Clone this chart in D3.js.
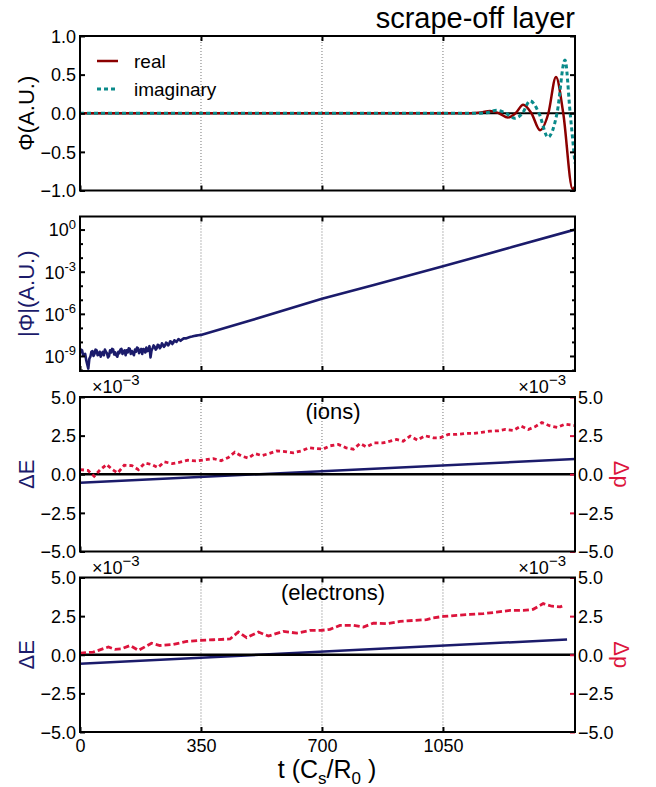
<!DOCTYPE html>
<html>
<head>
<meta charset="utf-8">
<script src="https://cdnjs.cloudflare.com/ajax/libs/d3/7.8.5/d3.min.js"></script>
<style>
  body { margin: 0; background: #fff; }
  svg { font-family: "Liberation Sans", Arial, sans-serif; }
</style>
</head>
<body>
<script>
// time axis (C_s/R_0)
var tMax = 1432;
var tTicks = [0, 350, 700, 1050];
var gridTicks = [350, 700, 1050];

// panel 1: Phi, real and imaginary parts
var realTime = [0, 1000, 1130, 1160, 1186, 1212, 1238, 1260, 1282, 1306, 1331, 1355, 1377, 1398, 1425, 1432];
var realPhi = [0, 0, 0, 0.01, 0.03, 0, -0.055, 0, 0.11, 0, -0.22, 0, 0.47, 0, -0.98, -0.95];
var imagTime = [0, 1000, 1150, 1180, 1206, 1232, 1258, 1280, 1302, 1328, 1354, 1380, 1403, 1418, 1432];
var imagPhi = [0, 0, 0, 0.01, 0.04, 0, -0.065, 0, 0.16, 0, -0.31, 0, 0.69, 0, -0.65];

// panel 2: |Phi|, given as log10 of the value (read in decades off the log axis)
var absTime = [0, 3, 6, 9, 12, 15, 18, 21, 24, 27, 30, 33, 36, 39, 42, 45, 48, 51, 54, 57,
  60, 63, 66, 69, 72, 75, 78, 81, 84, 87, 90, 93, 96, 99, 102, 105, 108, 111, 114, 117,
  120, 123, 126, 129, 132, 135, 138, 141, 144, 147, 150, 153, 156, 159, 162, 165, 168, 171, 174, 177,
  180, 183, 186, 189, 192, 195, 198, 201, 204, 207, 210, 213, 216, 219, 222, 225, 228, 231, 234, 237,
  240, 243, 246, 249, 252, 255, 258, 261, 264, 267, 270, 273, 276, 279, 282, 285, 288, 291, 294,
  300, 306, 312, 318, 324, 330, 336, 342, 350, 500, 700, 850, 1050, 1250, 1432];
var absPhiLog10 = [-8.8, -8.55, -8.6, -8.95, -8.9, -8.85, -9.3, -9.6, -9.9, -9.2,
  -9.05, -8.7, -8.65, -9.0, -8.85, -8.55, -8.6, -8.95, -8.9, -8.7,
  -9.05, -8.8, -8.7, -8.95, -8.55, -8.7, -8.8, -9.1, -9.0, -8.6,
  -8.75, -8.5, -8.55, -8.9, -8.75, -8.95, -9.05, -8.7, -8.8, -8.55,
  -8.5, -8.85, -8.7, -8.6, -8.95, -8.6, -8.75, -8.45, -8.5, -8.85,
  -8.65, -8.8, -8.95, -8.55, -8.7, -8.4, -8.45, -8.8, -8.6, -8.5,
  -8.85, -8.5, -8.55, -8.75, -8.4, -8.65, -8.6, -8.3, -9.1, -8.6,
  -8.45, -8.25, -8.35, -8.55, -8.45, -8.2, -8.25, -8.45, -8.35, -8.1,
  -8.2, -8.35, -8.25, -8.05, -8.1, -8.25, -8.15, -7.95, -8.0, -8.15,
  -8.05, -7.88, -7.95, -8.0, -7.9, -7.8, -7.85, -7.92, -7.85,
  -7.75, -7.75, -7.7, -7.65, -7.62, -7.58, -7.55, -7.52, -7.5, -6.42, -4.93, -3.94, -2.62, -1.25, 0];
var logTicks = [0, -3, -6, -9];

// panel 3: ions, energy and momentum errors (x 1e-3)
var ionETime = [0, 1432];
var ionE = [-0.55, 0.98];
var ionPTime = [0, 23, 41, 58, 77, 94, 109, 128, 150, 169, 188, 207, 225, 244, 267, 289, 312, 335, 360, 386,
  408, 429, 448, 468, 487, 506, 526, 547, 569, 593, 617, 641, 662, 685, 704, 723, 747, 770, 791, 810,
  829, 851, 876, 897, 916, 935, 955, 976, 998, 1022, 1041, 1066, 1090, 1114, 1138, 1162, 1186, 1210, 1230, 1254,
  1276, 1297, 1316, 1336, 1358, 1381, 1403, 1422, 1432];
var ionP = [0.3, 0.25, -0.13, 0.28, 0.63, 0.3, 0.08, 0.58, 0.56, 0.3, 0.73, 0.63, 0.43, 0.8, 0.69, 0.78, 0.91, 0.86, 0.93, 1.01,
  0.88, 1.08, 1.43, 1.17, 1.04, 1.34, 1.21, 1.34, 1.51, 1.47, 1.39, 1.51, 1.71, 1.66, 1.64, 1.84, 1.93, 1.71, 1.62, 1.99,
  1.77, 2.03, 2.03, 2.14, 2.25, 2.14, 2.47, 2.21, 2.49, 2.36, 2.36, 2.58, 2.58, 2.64, 2.64, 2.71, 2.79, 2.81, 2.9, 2.84,
  3.12, 2.9, 3.07, 3.35, 3.14, 3.03, 3.24, 3.18, 3.15];

// panel 4: electrons
var eleETime = [0, 1409];
var eleE = [-0.58, 0.99];
var elePTime = [0, 38, 82, 101, 121, 145, 169, 207, 231, 270, 309, 347, 386, 434, 458, 482, 516, 545, 588, 627,
  665, 699, 723, 752, 791, 820, 849, 887, 926, 964, 1003, 1022, 1051, 1090, 1128, 1167, 1205, 1244, 1282, 1311,
  1340, 1365, 1389, 1395];
var eleP = [0.1, 0.17, 0.5, 0.35, 0.39, 0.6, 0.28, 0.75, 0.6, 0.67, 0.86, 0.93, 0.97, 1.02, 1.47, 1.1, 1.47, 1.21, 1.51, 1.4,
  1.58, 1.58, 1.64, 1.9, 1.9, 1.79, 2.05, 2.01, 2.16, 2.22, 2.27, 2.39, 2.48, 2.55, 2.61, 2.66, 2.76, 2.87, 2.87, 2.94,
  3.31, 3.14, 3.1, 3.15];

var phiTicks = [-1, -0.5, 0, 0.5, 1];
var errTicks = [-5, -2.5, 0, 2.5, 5];

// colours
var navy = "#1b1b6b";
var crimson = "#dc143c";
var darkred = "#8b0000";
var teal = "#0a8a8a";

// layout
var svgWidth = 656;
var svgHeight = 787;
var plotLeft = 80;
var plotRight = 575;
var panelTop = [36, 216.5, 397, 577.5];
var panelH = 154.5;

var svg = d3.select("body")
  .append("svg")
  .attr("width", svgWidth)
  .attr("height", svgHeight);

var x = d3.scaleLinear().domain([0, tMax]).range([plotLeft, plotRight]);

function zip(a, b) {
  return a.map((d, i) => [d, b[i]]);
}

function fmt(d) {
  return d3.format(".1f")(d).replace("-", "\u2212");
}

// clip + dotted grid lines, returns group for the data
function makePanel(i) {
  var top = panelTop[i];
  var g = svg.append("g");
  g.append("clipPath").attr("id", "clip" + i)
    .append("rect")
    .attr("x", plotLeft).attr("y", top)
    .attr("width", plotRight - plotLeft).attr("height", panelH);
  g.selectAll(".grid")
    .data(gridTicks)
    .enter()
    .append("line")
    .attr("x1", d => x(d)).attr("x2", d => x(d))
    .attr("y1", top).attr("y2", top + panelH)
    .attr("stroke", "#777")
    .attr("stroke-width", 1)
    .attr("stroke-dasharray", "1,2");
  var plot = g.append("g").attr("clip-path", `url(#clip${i})`);
  return { g: g, plot: plot, top: top, bottom: top + panelH };
}

function styleAxis(ax, color) {
  ax.select(".domain").remove();
  ax.selectAll("line").attr("stroke", color || "#000").attr("stroke-width", 2);
  ax.selectAll("text")
    .attr("fill", "#000")
    .attr("font-size", 18)
    .attr("font-family", "Liberation Sans, Arial, sans-serif");
}

// frame with top/bottom ticks
function drawFrame(p, showX) {
  var top = svg.append("g").attr("transform", `translate(0,${p.top})`)
    .call(d3.axisTop(x).tickValues(gridTicks).tickSize(-5).tickFormat(""));
  styleAxis(top);
  var bot = svg.append("g").attr("transform", `translate(0,${p.bottom})`)
    .call(d3.axisBottom(x).tickValues(tTicks).tickSize(-5).tickPadding(7)
      .tickFormat(showX ? d3.format("d") : ""));
  styleAxis(bot);
  svg.append("rect")
    .attr("x", plotLeft).attr("y", p.top)
    .attr("width", plotRight - plotLeft).attr("height", panelH)
    .attr("fill", "none").attr("stroke", "#000").attr("stroke-width", 2);
}

function yLabel(text, cy, color) {
  svg.append("text")
    .attr("transform", `translate(34,${cy}) rotate(-90)`)
    .attr("text-anchor", "middle")
    .attr("font-size", 22)
    .attr("fill", color)
    .text(text);
}

// ---------- panel 1 ----------
var p1 = makePanel(0);
var y1 = d3.scaleLinear().domain([-1, 1]).range([p1.bottom, p1.top]);

p1.plot.append("line")
  .attr("x1", plotLeft).attr("x2", plotRight)
  .attr("y1", y1(0)).attr("y2", y1(0))
  .attr("stroke", "#000").attr("stroke-width", 2);

var line1 = d3.line().x(d => x(d[0])).y(d => y1(d[1])).curve(d3.curveMonotoneX);

p1.plot.append("path")
  .datum(zip(realTime, realPhi))
  .attr("d", line1)
  .attr("fill", "none").attr("stroke", darkred).attr("stroke-width", 2.5);

p1.plot.append("path")
  .datum(zip(imagTime, imagPhi))
  .attr("d", line1)
  .attr("fill", "none").attr("stroke", teal).attr("stroke-width", 3)
  .attr("stroke-dasharray", "4,3");

var l1 = svg.append("g").attr("transform", `translate(${plotLeft},0)`)
  .call(d3.axisLeft(y1).tickValues(phiTicks).tickSize(-5).tickPadding(4).tickFormat(fmt));
styleAxis(l1);
l1.selectAll("text").attr("dy", "0.35em");
var r1 = svg.append("g").attr("transform", `translate(${plotRight},0)`)
  .call(d3.axisRight(y1).tickValues(phiTicks).tickSize(-5).tickFormat(""));
styleAxis(r1);
drawFrame(p1, false);
yLabel("\u03a6(A.U.)", (p1.top + p1.bottom) / 2, "#000");

// legend
var legend = svg.append("g");
legend.append("line")
  .attr("x1", 97).attr("x2", 118).attr("y1", 61).attr("y2", 61)
  .attr("stroke", darkred).attr("stroke-width", 2.5);
legend.append("text").attr("x", 134).attr("y", 68).attr("font-size", 19).text("real");
legend.append("line")
  .attr("x1", 97).attr("x2", 118).attr("y1", 89).attr("y2", 89)
  .attr("stroke", teal).attr("stroke-width", 3).attr("stroke-dasharray", "4,3");
legend.append("text").attr("x", 134).attr("y", 96).attr("font-size", 19).text("imaginary");

// title
svg.append("text")
  .attr("x", plotRight).attr("y", 28)
  .attr("text-anchor", "end")
  .attr("font-size", 29)
  .text("scrape-off layer");

// ---------- panel 2 ----------
var p2 = makePanel(1);
var y2 = d3.scaleLog().domain([Math.pow(10, -10.07), Math.pow(10, 0.93)]).range([p2.bottom, p2.top]);

p2.plot.append("path")
  .datum(zip(absTime, absPhiLog10))
  .attr("d", d3.line().x(d => x(d[0])).y(d => y2(Math.pow(10, d[1]))))
  .attr("fill", "none").attr("stroke", navy).attr("stroke-width", 2.6)
  .attr("stroke-linejoin", "round");

var majors = logTicks.map(e => Math.pow(10, e));
var minors = d3.range(-10, 1).filter(e => logTicks.indexOf(e) < 0).map(e => Math.pow(10, e));

var l2 = svg.append("g").attr("transform", `translate(${plotLeft},0)`)
  .call(d3.axisLeft(y2).tickValues(majors).tickSize(-5).tickPadding(4).tickFormat(""));
styleAxis(l2);
l2.selectAll(".tick text").each(function(d) {
  var t = d3.select(this).attr("dy", "0.35em");
  t.append("tspan").text("10");
  t.append("tspan").attr("dy", "-0.6em").attr("font-size", 13).text(Math.round(Math.log10(d)));
});
var l2m = svg.append("g").attr("transform", `translate(${plotLeft},0)`)
  .call(d3.axisLeft(y2).tickValues(minors).tickSize(-3).tickFormat(""));
styleAxis(l2m);
var r2 = svg.append("g").attr("transform", `translate(${plotRight},0)`)
  .call(d3.axisRight(y2).tickValues(majors).tickSize(-5).tickFormat(""));
styleAxis(r2);
var r2m = svg.append("g").attr("transform", `translate(${plotRight},0)`)
  .call(d3.axisRight(y2).tickValues(minors).tickSize(-3).tickFormat(""));
styleAxis(r2m);
drawFrame(p2, false);
yLabel("|\u03a6|(A.U.)", (p2.top + p2.bottom) / 2, navy);

// ---------- panels 3 and 4 ----------
function errorPanel(i, eTime, eVal, pTime, pVal, label, dash) {
  var p = makePanel(i);
  var y = d3.scaleLinear().domain([-5, 5]).range([p.bottom, p.top]);
  var line = d3.line().x(d => x(d[0])).y(d => y(d[1]));

  p.plot.append("path")
    .datum(zip(eTime, eVal))
    .attr("d", line)
    .attr("fill", "none").attr("stroke", navy).attr("stroke-width", 2.5);

  p.plot.append("line")
    .attr("x1", plotLeft).attr("x2", plotRight)
    .attr("y1", y(0)).attr("y2", y(0))
    .attr("stroke", "#000").attr("stroke-width", 2.5);

  p.plot.append("path")
    .datum(zip(pTime, pVal))
    .attr("d", line)
    .attr("fill", "none").attr("stroke", crimson).attr("stroke-width", 2.8)
    .attr("stroke-dasharray", dash);

  var la = svg.append("g").attr("transform", `translate(${plotLeft},0)`)
    .call(d3.axisLeft(y).tickValues(errTicks).tickSize(-5).tickPadding(4).tickFormat(fmt));
  styleAxis(la);
  la.selectAll("text").attr("dy", "0.35em");
  var ra = svg.append("g").attr("transform", `translate(${plotRight},0)`)
    .call(d3.axisRight(y).tickValues(errTicks).tickSize(-5).tickPadding(3).tickFormat(fmt));
  styleAxis(ra, crimson);
  ra.selectAll("text").attr("dy", "0.35em");

  drawFrame(p, i === 3);

  // offset texts (x 10^-3)
  var ol = svg.append("text").attr("x", 92).attr("y", p.top - 4).attr("font-size", 18);
  ol.append("tspan").text("\u00d710");
  ol.append("tspan").attr("dy", -8).attr("font-size", 15).text("\u22123");
  var or = svg.append("text").attr("x", 566).attr("y", p.top - 4).attr("font-size", 18)
    .attr("text-anchor", "end");
  or.append("tspan").text("\u00d710");
  or.append("tspan").attr("dy", -8).attr("font-size", 15).text("\u22123");

  svg.append("text")
    .attr("x", 333).attr("y", p.top + 22)
    .attr("text-anchor", "middle")
    .attr("font-size", 22)
    .text(label);

  var cy = (p.top + p.bottom) / 2;
  yLabel("\u0394E", cy, navy);
  svg.append("text")
    .attr("transform", `translate(614,${cy}) rotate(90)`)
    .attr("text-anchor", "middle")
    .attr("font-size", 22)
    .attr("fill", crimson)
    .text("\u0394p");
}

errorPanel(2, ionETime, ionE, ionPTime, ionP, "(ions)", "4,3");
errorPanel(3, eleETime, eleE, elePTime, eleP, "(electrons)", "6,3");

// x label
var xl = svg.append("text")
  .attr("x", 327).attr("y", 778)
  .attr("text-anchor", "middle")
  .attr("font-size", 25);
xl.append("tspan").text("t (C");
xl.append("tspan").attr("dy", 6).attr("font-size", 17).text("s");
xl.append("tspan").attr("dy", -6).text("/R");
xl.append("tspan").attr("dy", 6).attr("font-size", 17).text("0");
xl.append("tspan").attr("dy", -6).text(" )");
</script>
</body>
</html>
